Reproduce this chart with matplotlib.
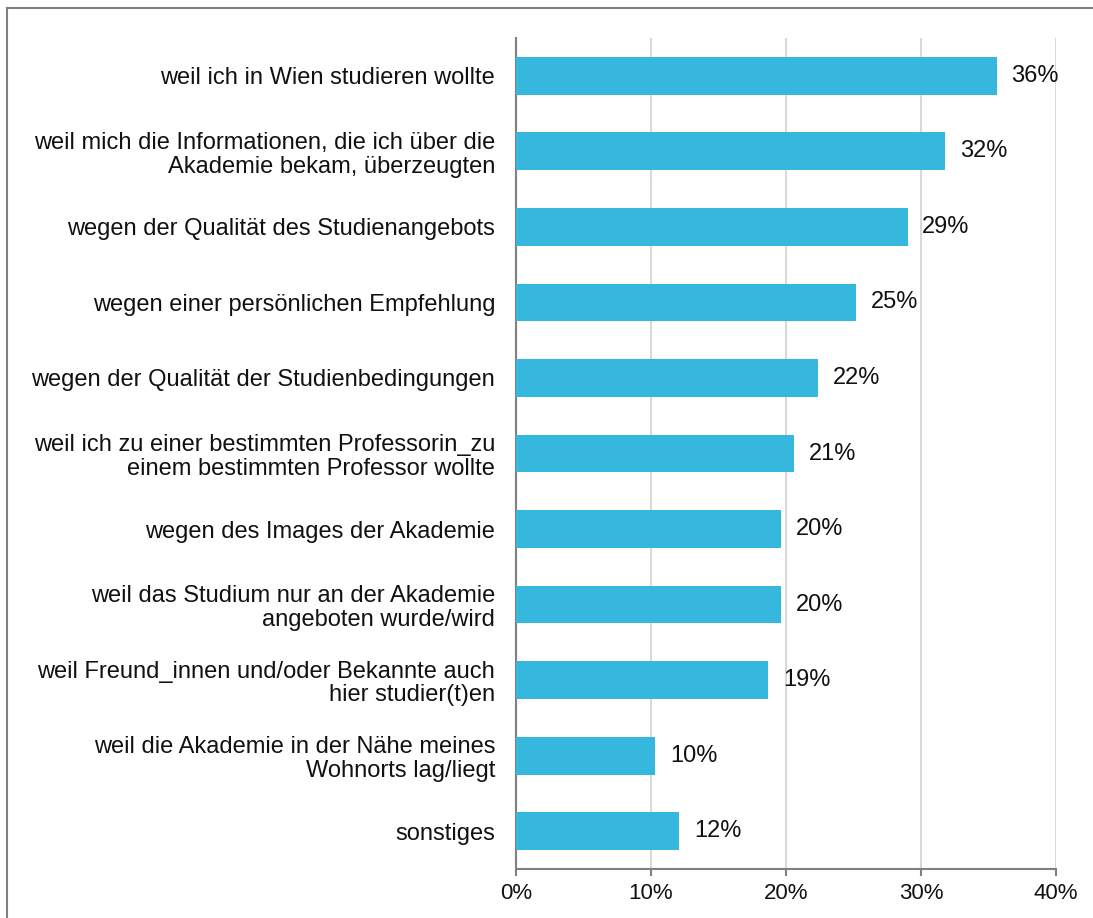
import matplotlib.pyplot as plt
from matplotlib.lines import Line2D

plt.rcParams['font.family'] = ['Liberation Sans', 'DejaVu Sans']

categories = [
    'weil ich in Wien studieren wollte',
    'weil mich die Informationen, die ich über die\nAkademie bekam, überzeugten',
    'wegen der Qualität des Studienangebots',
    'wegen einer persönlichen Empfehlung',
    'wegen der Qualität der Studienbedingungen',
    'weil ich zu einer bestimmten Professorin_zu\neinem bestimmten Professor wollte',
    'wegen des Images der Akademie',
    'weil das Studium nur an der Akademie\nangeboten wurde/wird',
    'weil Freund_innen und/oder Bekannte auch\nhier studier(t)en',
    'weil die Akademie in der Nähe meines\nWohnorts lag/liegt',
    'sonstiges',
]
values = [35.6, 31.8, 29.0, 25.2, 22.4, 20.6, 19.6, 19.6, 18.7, 10.3, 12.1]
value_labels = ['36%', '32%', '29%', '25%', '22%', '21%', '20%', '20%', '19%', '10%', '12%']
xticks = [0, 10, 20, 30, 40]

fig = plt.figure(figsize=(10.93, 9.18), dpi=100)
ax = fig.add_axes([516 / 1093, 1 - 869 / 918, 540 / 1093, 831 / 918])

ypos = list(range(len(categories)))
ax.barh(ypos, values, height=0.5, color='#35B7DE', zorder=3)
for y, v, lab in zip(ypos, values, value_labels):
    ax.text(v + 1.1, y, lab, va='center', ha='left', fontsize=17, color='#111111')

ax.set_ylim(len(categories) - 0.5, -0.5)
ax.set_xlim(0, 40)
ax.set_yticks(ypos)
ax.set_yticklabels(categories, fontsize=17, color='#111111', linespacing=1.1)
ax.tick_params(axis='y', length=0, pad=15)
ax.set_xticks(xticks)
ax.set_xticklabels([f'{t}%' for t in xticks], fontsize=16, color='#111111')
ax.tick_params(axis='x', length=5, width=1.5, color='#808080', pad=5)
ax.grid(axis='x', color='#d9d9d9', linewidth=1.5, zorder=0)
for s in ['top', 'right']:
    ax.spines[s].set_visible(False)
for s in ['left', 'bottom']:
    ax.spines[s].set_color('#808080')
    ax.spines[s].set_linewidth(1.5)

# outer frame (left and top edges visible)
x0 = 7 / 1093
y0 = 1 - 8 / 918
fig.add_artist(Line2D([x0, x0], [0, y0], transform=fig.transFigure, color='#808080', linewidth=1.5))
fig.add_artist(Line2D([x0, 1], [y0, y0], transform=fig.transFigure, color='#808080', linewidth=1.5))

fig.savefig('out.png', dpi=100)
